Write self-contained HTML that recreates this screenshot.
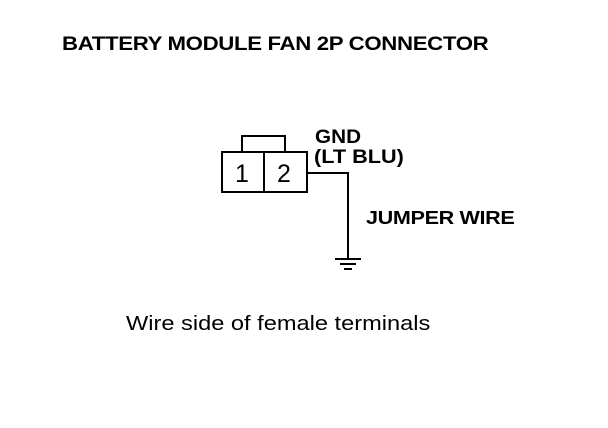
<!DOCTYPE html>
<html><head><style>
body{margin:0;width:608px;height:428px;background:#fff;overflow:hidden;position:relative;font-family:"Liberation Sans",sans-serif;}
.t{position:absolute;white-space:nowrap;color:#000;transform-origin:0 0;}
</style></head><body>
<div class="t" style="left:62px;top:34px;font-size:19px;font-weight:bold;letter-spacing:-0.3px;transform:scaleX(1.17);">BATTERY MODULE FAN 2P CONNECTOR</div>
<div class="t" style="left:315px;top:127px;font-size:19px;font-weight:bold;transform:scaleX(1.09);">GND</div>
<div class="t" style="left:314px;top:147px;font-size:19px;font-weight:bold;transform:scaleX(1.14);">(LT BLU)</div>
<div class="t" style="left:366px;top:208px;font-size:18px;font-weight:bold;letter-spacing:-0.3px;transform:scaleX(1.2);">JUMPER WIRE</div>
<div class="t" style="left:126px;top:313px;font-size:20px;transform:scaleX(1.18);">Wire side of female terminals</div>
<svg width="608" height="428" style="position:absolute;left:0;top:0">
<g fill="none" stroke="#000" stroke-width="2">
<rect x="242" y="136" width="43" height="16"/>
<rect x="222" y="152" width="85" height="40"/>
<line x1="264" y1="152" x2="264" y2="192"/>
<polyline points="307,173 348,173 348,258"/>
<line x1="335" y1="259" x2="361" y2="259"/>
<line x1="340" y1="264" x2="356" y2="264"/>
<line x1="344" y1="269" x2="352" y2="269"/>
</g>
<text x="235" y="182" font-family="Liberation Sans" font-size="25">1</text>
<text x="277" y="182" font-family="Liberation Sans" font-size="25">2</text>
</svg>
</body></html>
